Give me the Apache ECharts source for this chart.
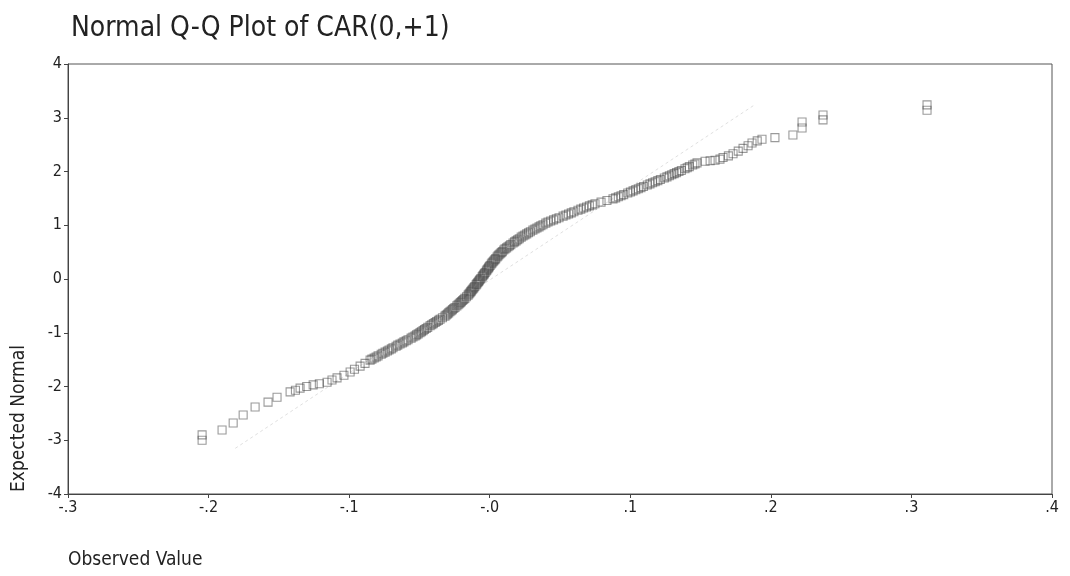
<!DOCTYPE html>
<html>
<head>
<meta charset="utf-8">
<script src="https://cdn.jsdelivr.net/npm/echarts@6/dist/echarts.min.js"></script>
<style>
html,body{margin:0;padding:0;background:#fff;}
#chart{width:1070px;height:576px;}
</style>
</head>
<body>
<div id="chart"></div>
<script>
// ---- data ----
const titleText = 'Normal Q-Q Plot of CAR(0,+1)';
const xAxisTitle = 'Observed Value';
const yAxisTitle = 'Expected Normal';
const xTickLabels = ['-.3', '-.2', '-.1', '-.0', '.1', '.2', '.3', '.4'];
const yTickLabels = ['-4', '-3', '-2', '-1', '0', '1', '2', '3', '4'];

// [observed value, expected normal] of the plotted points
const qqPoints = [
  [-0.2046,-3.00],[-0.2046,-2.90],[-0.1904,-2.81],[-0.1825,-2.68],[-0.1754,-2.53],
  [-0.1669,-2.38],[-0.1577,-2.29],[-0.1513,-2.20],[-0.1420,-2.10],[-0.1382,-2.07],
  [-0.1349,-2.03],[-0.1302,-2.00],[-0.1256,-1.97],[-0.1212,-1.95],[-0.1157,-1.92],
  [-0.1122,-1.88],[-0.1086,-1.84],[-0.1037,-1.79],[-0.0993,-1.73],[-0.0962,-1.68],
  [-0.0922,-1.62],[-0.0887,-1.57],[-0.0851,-1.51],[-0.0838,-1.49],[-0.0822,-1.47],
  [-0.0808,-1.45],[-0.0794,-1.43],[-0.0772,-1.40],[-0.0760,-1.38],[-0.0744,-1.36],
  [-0.0728,-1.34],[-0.0716,-1.32],[-0.0700,-1.30],[-0.0688,-1.28],[-0.0666,-1.25],
  [-0.0654,-1.23],[-0.0638,-1.21],[-0.0622,-1.19],[-0.0610,-1.17],[-0.0594,-1.15],
  [-0.0581,-1.13],[-0.0559,-1.10],[-0.0546,-1.08],[-0.0531,-1.06],[-0.0520,-1.04],
  [-0.0509,-1.02],[-0.0496,-1.00],[-0.0486,-0.98],[-0.0474,-0.96],[-0.0464,-0.94],
  [-0.0452,-0.92],[-0.0441,-0.90],[-0.0424,-0.87],[-0.0412,-0.85],[-0.0401,-0.83],
  [-0.0388,-0.81],[-0.0377,-0.79],[-0.0365,-0.77],[-0.0353,-0.75],[-0.0336,-0.72],
  [-0.0318,-0.69],[-0.0309,-0.67],[-0.0300,-0.65],[-0.0292,-0.63],[-0.0283,-0.61],
  [-0.0274,-0.59],[-0.0265,-0.57],[-0.0256,-0.55],[-0.0247,-0.53],[-0.0234,-0.50],
  [-0.0225,-0.48],[-0.0217,-0.46],[-0.0209,-0.44],[-0.0201,-0.42],[-0.0193,-0.40],
  [-0.0185,-0.38],[-0.0177,-0.36],[-0.0165,-0.33],[-0.0154,-0.30],[-0.0148,-0.28],
  [-0.0142,-0.26],[-0.0136,-0.24],[-0.0130,-0.22],[-0.0124,-0.20],[-0.0118,-0.18],
  [-0.0112,-0.16],[-0.0106,-0.14],[-0.0097,-0.11],[-0.0092,-0.09],[-0.0086,-0.07],
  [-0.0080,-0.05],[-0.0074,-0.03],[-0.0069,-0.01],[-0.0063,0.01],[-0.0054,0.04],
  [-0.0049,0.06],[-0.0043,0.08],[-0.0038,0.10],[-0.0032,0.12],[-0.0024,0.15],
  [-0.0019,0.17],[-0.0013,0.19],[-0.0008,0.21],[-0.0003,0.23],[0.0003,0.25],
  [0.0011,0.28],[0.0017,0.30],[0.0024,0.32],[0.0030,0.34],[0.0037,0.36],
  [0.0043,0.38],[0.0052,0.41],[0.0059,0.43],[0.0066,0.45],[0.0074,0.47],
  [0.0082,0.49],[0.0090,0.51],[0.0100,0.54],[0.0109,0.56],[0.0120,0.58],
  [0.0130,0.60],[0.0140,0.62],[0.0150,0.64],[0.0166,0.67],[0.0177,0.69],
  [0.0188,0.71],[0.0199,0.73],[0.0210,0.75],[0.0224,0.78],[0.0237,0.80],
  [0.0250,0.82],[0.0263,0.84],[0.0276,0.86],[0.0289,0.88],[0.0307,0.91],
  [0.0322,0.93],[0.0336,0.95],[0.0351,0.97],[0.0364,0.99],[0.0379,1.01],
  [0.0399,1.04],[0.0415,1.06],[0.0434,1.08],[0.0454,1.10],[0.0474,1.12],
  [0.0493,1.14],[0.0522,1.17],[0.0542,1.19],[0.0561,1.21],[0.0580,1.23],
  [0.0599,1.25],[0.0628,1.28],[0.0648,1.30],[0.0668,1.32],[0.0689,1.34],
  [0.0709,1.36],[0.0729,1.38],[0.0749,1.40],[0.0792,1.43],[0.0834,1.46],
  [0.0877,1.49],[0.0896,1.51],[0.0915,1.53],[0.0934,1.55],[0.0953,1.57],
  [0.0982,1.60],[0.1001,1.62],[0.1020,1.64],[0.1039,1.66],[0.1057,1.68],
  [0.1076,1.70],[0.1094,1.72],[0.1121,1.75],[0.1140,1.77],[0.1159,1.79],
  [0.1177,1.81],[0.1196,1.83],[0.1214,1.85],[0.1242,1.88],[0.1261,1.90],
  [0.1278,1.92],[0.1295,1.94],[0.1312,1.96],[0.1329,1.98],[0.1346,2.00],
  [0.1363,2.02],[0.1389,2.05],[0.1405,2.07],[0.1420,2.09],[0.1444,2.12],
  [0.1460,2.14],[0.1475,2.16],[0.1532,2.19],[0.1568,2.20],[0.1603,2.21],
  [0.1638,2.23],[0.1660,2.26],[0.1698,2.29],[0.1731,2.33],[0.1768,2.38],
  [0.1802,2.43],[0.1838,2.48],[0.1866,2.53],[0.1903,2.57],[0.1937,2.60],
  [0.2029,2.63],[0.2157,2.68],[0.2222,2.81],[0.2222,2.92],[0.2371,2.96],
  [0.2371,3.05],[0.3111,3.14],[0.3111,3.24]
];
// faint reference line end points [observed, expected]
const refLine = [[-0.181, -3.15], [0.189, 3.25]];

// ---- chart ----
const FONT = '"DejaVu Sans Condensed", "DejaVu Sans", sans-serif';

const chart = echarts.init(document.getElementById('chart'), null, {renderer: 'canvas'});
chart.setOption({
  backgroundColor: '#ffffff',
  animation: false,
  title: {
    text: titleText,
    left: 66,
    top: 10,
    textStyle: {fontFamily: FONT, fontSize: 28, fontWeight: 'normal', color: '#222'}
  },
  grid: {
    left: 68, top: 64, width: 984, height: 430,
    show: true, borderColor: '#555', borderWidth: 1, backgroundColor: 'transparent'
  },
  xAxis: {
    type: 'value', min: -0.3, max: 0.4, interval: 0.1,
    axisLine: {show: true, onZero: false, lineStyle: {color: '#444', width: 1}},
    axisTick: {show: true, inside: false, length: 4, lineStyle: {color: '#444'}},
    splitLine: {show: false},
    axisLabel: {
      fontFamily: FONT, fontSize: 16, color: '#222', margin: 6,
      formatter: v => xTickLabels[Math.round((v + 0.3) / 0.1)]
    }
  },
  yAxis: {
    type: 'value', min: -4, max: 4, interval: 1,
    axisLine: {show: true, onZero: false, lineStyle: {color: '#444', width: 1}},
    axisTick: {show: true, inside: false, length: 4, lineStyle: {color: '#444'}},
    splitLine: {show: false},
    axisLabel: {
      fontFamily: FONT, fontSize: 16, color: '#222', margin: 6,
      formatter: v => yTickLabels[Math.round(v + 4)]
    }
  },
  graphic: [
    {type: 'text', left: 68, top: 551,
     style: {text: xAxisTitle, font: '19px ' + FONT, fill: '#222'}},
    {type: 'text', x: 10, y: 492, rotation: Math.PI / 2,
     style: {text: yAxisTitle, font: '19px ' + FONT, fill: '#222'}}
  ],
  series: [
    {
      type: 'line', data: refLine, showSymbol: false, silent: true, z: 1,
      lineStyle: {color: '#e0e0e0', width: 1, type: [3, 3]}
    },
    {
      type: 'scatter', data: qqPoints, symbol: 'rect', symbolSize: 8, z: 2,
      itemStyle: {color: 'rgba(255,255,255,0)', borderColor: 'rgba(50,50,50,0.62)', borderWidth: 1.1}
    }
  ]
});
</script>
</body>
</html>
